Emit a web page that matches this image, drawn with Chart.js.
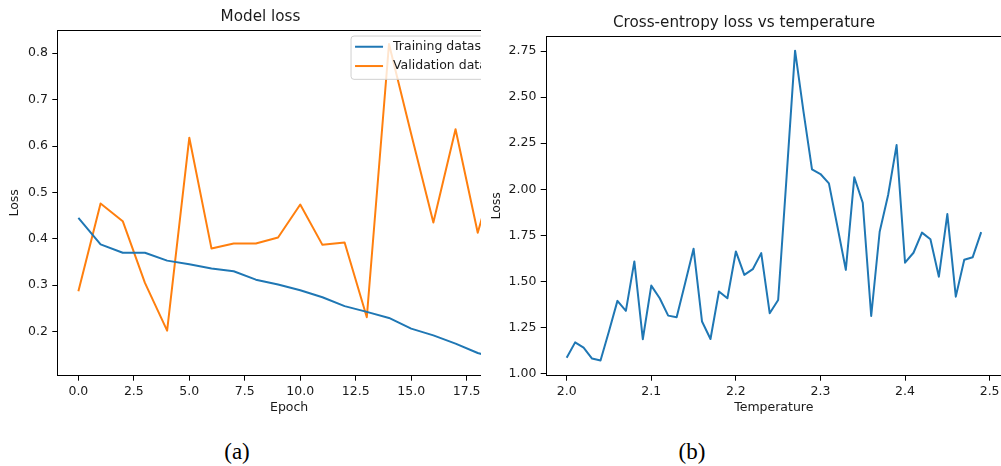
<!DOCTYPE html>
<html><head><meta charset="utf-8">
<script src="https://cdn.jsdelivr.net/npm/chart.js@4"></script>
<style>
html,body{margin:0;padding:0;background:#fff;width:1001px;height:466px;overflow:hidden;position:relative;}
#wrapA{position:absolute;left:0;top:0;width:481px;height:420px;overflow:hidden;}
#cA{position:absolute;left:0;top:0;}
#wrapB{position:absolute;left:486px;top:0;width:576px;height:420px;}
.cap{position:absolute;top:439px;font-family:"Liberation Serif";font-size:23px;line-height:25px;color:#000;transform:translateX(-50%);}
</style></head>
<body>
<div id="wrapA"><canvas id="cA" width="578" height="420"></canvas></div>
<div id="wrapB"><canvas id="cB" width="576" height="420"></canvas></div>
<div class="cap" style="left:237px">(a)</div>
<div class="cap" style="left:692px">(b)</div>
<script>
// ---- data: panel (a) ----
const epochs = [0,1,2,3,4,5,6,7,8,9,10,11,12,13,14,15,16,17,18,19];
const trainLoss = [0.445,0.388,0.370,0.370,0.353,0.345,0.336,0.330,0.312,0.3015,0.289,0.274,0.255,0.2425,0.2295,0.2065,0.192,0.174,0.154,0.141];
const valLoss = [0.287,0.476,0.438,0.305,0.202,0.618,0.379,0.390,0.390,0.403,0.474,0.387,0.392,0.231,0.820,0.626,0.435,0.636,0.413,0.58];
const epochTicks = [0,2.5,5,7.5,10,12.5,15,17.5];
const lossTicksA = [0.2,0.3,0.4,0.5,0.6,0.7,0.8];

// ---- data: panel (b) ----
const temperatures = [2.00,2.01,2.02,2.03,2.04,2.05,2.06,2.07,2.08,2.09,
  2.10,2.11,2.12,2.13,2.14,2.15,2.16,2.17,2.18,2.19,
  2.20,2.21,2.22,2.23,2.24,2.25,2.26,2.27,2.28,2.29,
  2.30,2.31,2.32,2.33,2.34,2.35,2.36,2.37,2.38,2.39,
  2.40,2.41,2.42,2.43,2.44,2.45,2.46,2.47,2.48,2.49];
const ceLoss = [1.087,1.170,1.141,1.082,1.072,1.23,1.395,1.341,1.609,1.187,
  1.478,1.409,1.315,1.306,1.49,1.678,1.283,1.188,1.446,1.409,
  1.663,1.536,1.567,1.654,1.328,1.400,2.07,2.752,2.42,2.108,
  2.083,2.032,1.80,1.563,2.065,1.927,1.313,1.77,1.969,2.240,
  1.602,1.656,1.765,1.729,1.526,1.866,1.418,1.618,1.632,1.768];
const tempTicks = [2.0,2.1,2.2,2.3,2.4,2.5];
const lossTicksB = [1.00,1.25,1.50,1.75,2.00,2.25,2.50,2.75];

const FONT = 'DejaVu Sans';
const TXT = '#1a1a1a';

const framePlugin = {
  id: 'frame',
  afterDraw(chart) {
    const {ctx, chartArea: a} = chart;
    ctx.save();
    ctx.strokeStyle = '#000';
    ctx.lineWidth = 1;
    const l = Math.round(a.left) + 0.5, t = Math.round(a.top) + 0.5;
    const r = Math.round(a.right) - 0.5, b = Math.round(a.bottom) - 0.5;
    ctx.strokeRect(l, t, r - l, b - t);
    ctx.restore();
  }
};

const legendPlugin = {
  id: 'mplLegend',
  afterDatasetsDraw(chart, args, opts) {
    if (!opts || !opts.show) return;
    const {ctx, chartArea: a} = chart;
    const ds = chart.data.datasets;
    ctx.save();
    ctx.font = '12.5px "' + FONT + '"';
    const tw = Math.max(...ds.map(d => ctx.measureText(d.label).width));
    const w = 4 + 28 + 10 + tw + 5;
    const x0 = a.right - 10 - w;
    const y0 = a.top + 6;
    const h = 43.3;
    ctx.beginPath();
    ctx.roundRect(x0, y0, w, h, 3);
    ctx.fillStyle = 'rgba(255,255,255,0.8)';
    ctx.fill();
    ctx.strokeStyle = '#d0d0d0';
    ctx.lineWidth = 1;
    ctx.stroke();
    ds.forEach((d, i) => {
      const cy = y0 + 10.7 + i * 19.3;
      ctx.beginPath();
      ctx.moveTo(x0 + 4, cy);
      ctx.lineTo(x0 + 32, cy);
      ctx.strokeStyle = d.borderColor;
      ctx.lineWidth = 2;
      ctx.stroke();
      ctx.fillStyle = TXT;
      ctx.textBaseline = 'middle';
      ctx.textAlign = 'left';
      ctx.fillText(d.label, x0 + 42, cy);
    });
    ctx.restore();
  }
};

function axis(opts) {
  return {
    type: 'linear',
    min: opts.min, max: opts.max,
    afterFit: opts.fit,
    afterBuildTicks: s => { s.ticks = opts.ticks.map(v => ({value: v})); },
    border: {display: false},
    grid: {display: true, drawOnChartArea: false, drawTicks: true, tickLength: 5, color: '#000', lineWidth: 1},
    ticks: {
      color: TXT, font: {family: FONT, size: 12.5}, padding: opts.tpad,
      maxRotation: 0, autoSkip: false,
      callback: v => v.toFixed(opts.dec)
    },
    title: {display: true, text: opts.title, color: TXT, font: {family: FONT, size: 12.5}, padding: opts.titlePad}
  };
}

function makeChart(id, datasets, o) {
  return new Chart(document.getElementById(id), {
    type: 'line',
    data: {datasets},
    plugins: [framePlugin, legendPlugin],
    options: {
      responsive: false,
      animation: false,
      devicePixelRatio: 1,
      layout: {padding: {left: 0, top: 0, bottom: 0, right: o.padRight}},
      elements: {point: {radius: 0}, line: {tension: 0, borderWidth: 2, borderJoinStyle: 'round', borderCapStyle: 'butt'}},
      plugins: {
        legend: {display: false},
        tooltip: {enabled: false},
        title: {display: true, text: o.title, color: TXT, font: {family: FONT, size: 15.2, weight: 'normal'}, padding: o.titlePad},
        mplLegend: {show: o.legend}
      },
      scales: {
        x: Object.assign(axis(o.x), {position: 'bottom'}),
        y: Object.assign(axis(o.y), {position: 'left'})
      }
    }
  });
}

makeChart('cA', [
  {label: 'Training dataset', data: epochs.map((e, i) => ({x: e, y: trainLoss[i]})), borderColor: '#1f77b4', backgroundColor: '#1f77b4'},
  {label: 'Validation dataset', data: epochs.map((e, i) => ({x: e, y: valLoss[i]})), borderColor: '#ff7f0e', backgroundColor: '#ff7f0e'}
], {
  title: 'Model loss', titlePad: {top: 7.9, bottom: 3.9}, padRight: 57, legend: true,
  x: {min: -0.95, max: 19.95, ticks: epochTicks, dec: 1, title: 'Epoch', titlePad: {top: 0, bottom: 4.3}, tpad: 3.5, fit: s => { s.height = 44.3; }},
  y: {min: 0.105, max: 0.850, ticks: lossTicksA, dec: 1, title: 'Loss', titlePad: {top: 7.5, bottom: 0}, tpad: 4.3, fit: s => { s.width = 57.3; }}
});

makeChart('cB', [
  {label: 'Loss', data: temperatures.map((t, i) => ({x: t, y: ceLoss[i]})), borderColor: '#1f77b4', backgroundColor: '#1f77b4'}
], {
  title: 'Cross-entropy loss vs temperature', titlePad: {top: 13.6, bottom: 4.2}, padRight: 60.1, legend: false,
  x: {min: 1.9752, max: 2.5145, ticks: tempTicks, dec: 1, title: 'Temperature', titlePad: {top: 0, bottom: 4.3}, tpad: 3.5, fit: s => { s.height = 44.3; }},
  y: {min: 0.9892, max: 2.8313, ticks: lossTicksB, dec: 2, title: 'Loss', titlePad: {top: 3.2, bottom: 0}, tpad: 4.3, fit: s => { s.width = 59.7; }}
});
</script>
</body></html>
